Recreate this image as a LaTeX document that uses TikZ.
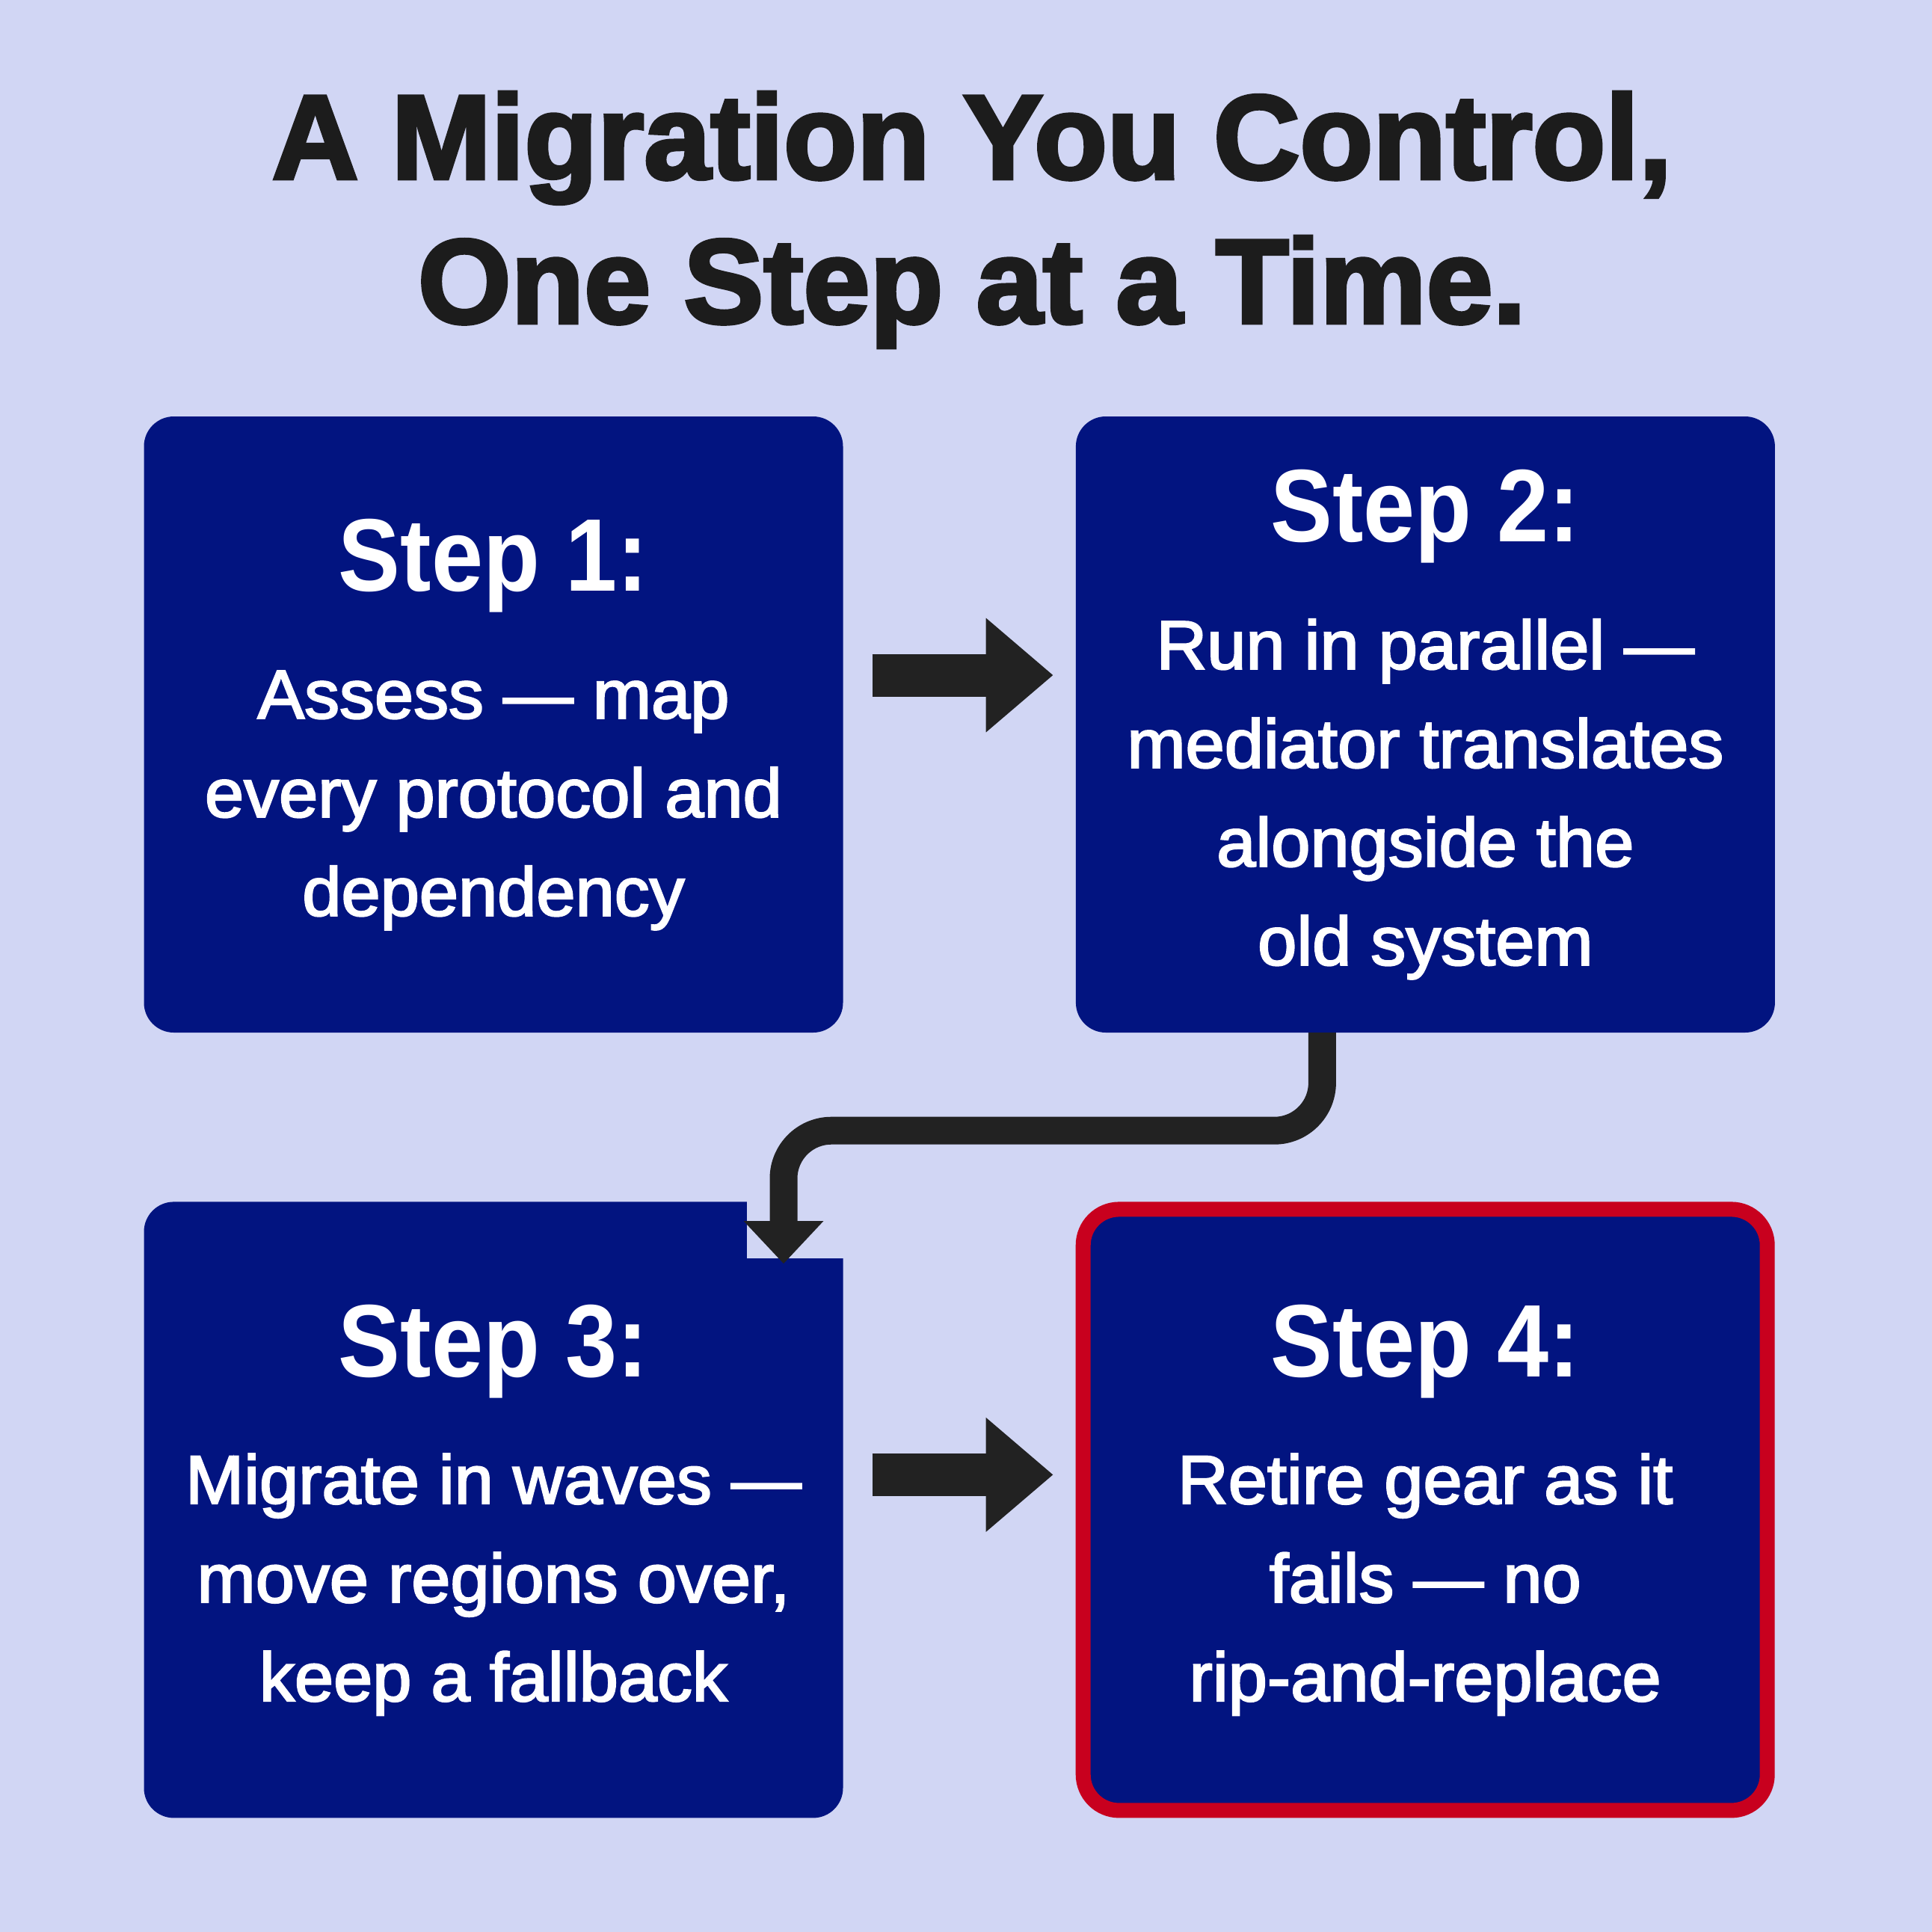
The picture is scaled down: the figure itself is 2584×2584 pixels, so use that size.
\documentclass[tikz,border=0pt]{standalone}
\usepackage{fontspec}
\setmainfont{Liberation Sans}
\newfontfamily\titlefont[FakeBold=3]{Liberation Sans}
\newfontfamily\stepfont[FakeStretch=0.9]{Liberation Sans}
\newfontfamily\bodyfont[FakeBold=2.5, FakeStretch=1.02]{Liberation Sans}
\usetikzlibrary{arrows.meta, positioning}
\definecolor{bgblue}{RGB}{209, 214, 244}
\definecolor{stepnavy}{RGB}{2, 20, 128}
\definecolor{retirered}{RGB}{200, 0, 30}
\definecolor{arrowdark}{RGB}{34, 34, 34}
\definecolor{titledark}{RGB}{28, 28, 28}

\begin{document}
\begin{tikzpicture}[
        x=1pt, y=-1pt,
        node distance=226pt and 311pt,
        arr/.style={-{Triangle[length=90pt, width=147pt]}, line width=57pt, arrowdark},
        bendarr/.style={-{Triangle[length=57pt, width=103pt]}, line width=37pt,
                        arrowdark, rounded corners=64pt},
        box/.style={fill=stepnavy, rounded corners=40pt, minimum width=935pt,
                    minimum height=824pt, inner sep=0pt, align=center, text=white,
                    font=\bodyfont\fontsize{92}{132}\selectfont}
      ]
        \fill[bgblue] (0,0) rectangle (2584,2584);
        \useasboundingbox (0,0) rectangle (2584,2584);

        \node[titledark, align=center,
              font=\titlefont\bfseries\fontsize{160}{193}\selectfont] (title)
              at (1300,294) {A Migration You Control,\\One Step at a Time.};

        \node[box] (assess) at (660,969)
              {{\stepfont\bfseries\fontsize{138}{132}\selectfont Step 1:}\\[38pt]
               Assess — map\\every protocol and\\dependency};
        \node[box, right=of assess] (parallel)
              {{\stepfont\bfseries\fontsize{138}{132}\selectfont Step 2:}\\[38pt]
               Run in parallel —\\mediator translates\\alongside the\\old system};
        \node[box, below=of assess] (waves)
              {{\stepfont\bfseries\fontsize{138}{132}\selectfont Step 3:}\\[38pt]
               Migrate in waves —\\move regions over,\\keep a fallback};
        \node[box, draw=retirered, line width=20pt, rounded corners=48pt,
              minimum width=915pt, minimum height=804pt, right=of waves] (retire)
              {{\stepfont\bfseries\fontsize{138}{132}\selectfont Step 4:}\\[38pt]
               Retire gear as it\\fails — no\\rip-and-replace};

        % notch cut out of step 3 where the arrow lands
        \fill[bgblue] ([xshift=-129pt, yshift=2pt]waves.north east)
          rectangle ([xshift=2pt, yshift=-76pt]waves.north east);

        \draw[arr] ([xshift=39pt, yshift=66pt]assess.east)
          -- ([xshift=-30pt, yshift=66pt]parallel.west);
        \draw[bendarr] ([xshift=-138pt]parallel.south) -- ++(0,131)
          -| ([xshift=388pt, yshift=-83pt]waves.north);
        \draw[arr] ([xshift=39pt, yshift=47pt]waves.east)
          -- ([xshift=-30pt, yshift=47pt]retire.west);
      \end{tikzpicture}
\end{document}
